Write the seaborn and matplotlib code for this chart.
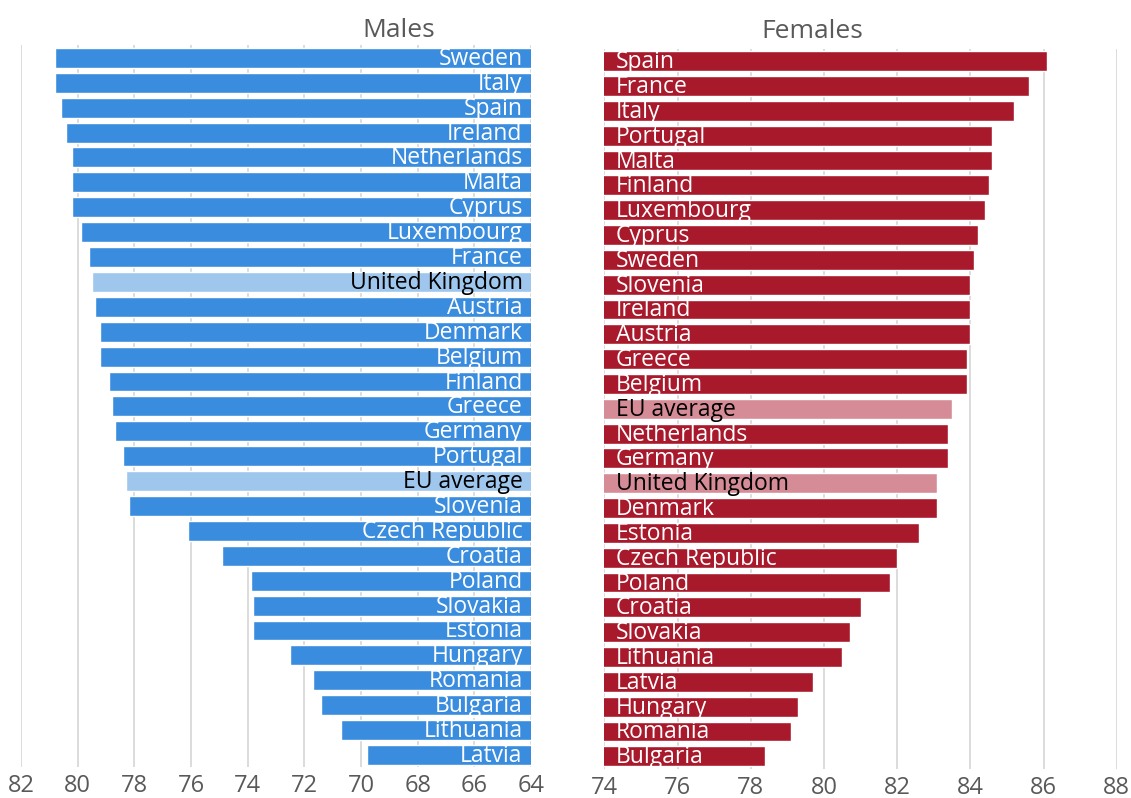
import matplotlib
matplotlib.use("Agg")
import matplotlib.pyplot as plt
import seaborn as sns
import pandas as pd

# life expectancy at birth
male_countries = ['Sweden', 'Italy', 'Spain', 'Ireland', 'Netherlands', 'Malta', 'Cyprus',
                  'Luxembourg', 'France', 'United Kingdom', 'Austria', 'Denmark', 'Belgium',
                  'Finland', 'Greece', 'Germany', 'Portugal', 'EU average', 'Slovenia',
                  'Czech Republic', 'Croatia', 'Poland', 'Slovakia', 'Estonia', 'Hungary',
                  'Romania', 'Bulgaria', 'Lithuania', 'Latvia']
male_values = [80.8, 80.8, 80.6, 80.4, 80.2, 80.2, 80.2, 79.9, 79.6, 79.5, 79.4, 79.2, 79.2,
               78.9, 78.8, 78.7, 78.4, 78.3, 78.2, 76.1, 74.9, 73.9, 73.8, 73.8, 72.5,
               71.7, 71.4, 70.7, 69.8]

female_countries = ['Spain', 'France', 'Italy', 'Portugal', 'Malta', 'Finland', 'Luxembourg',
                    'Cyprus', 'Sweden', 'Slovenia', 'Ireland', 'Austria', 'Greece', 'Belgium',
                    'EU average', 'Netherlands', 'Germany', 'United Kingdom', 'Denmark',
                    'Estonia', 'Czech Republic', 'Poland', 'Croatia', 'Slovakia', 'Lithuania',
                    'Latvia', 'Hungary', 'Romania', 'Bulgaria']
female_values = [86.1, 85.6, 85.2, 84.6, 84.6, 84.5, 84.4, 84.2, 84.1, 84.0, 84.0, 84.0,
                 83.9, 83.9, 83.5, 83.4, 83.4, 83.1, 83.1, 82.6, 82.0, 81.8, 81.0, 80.7,
                 80.5, 79.7, 79.3, 79.1, 78.4]

male_ticks = [82, 80, 78, 76, 74, 72, 70, 68, 66, 64]
female_ticks = [74, 76, 78, 80, 82, 84, 86, 88]
highlight = ['United Kingdom', 'EU average']

sns.set_theme(style='white')
plt.rcParams['font.family'] = ['Open Sans', 'DejaVu Sans']

fig = plt.figure(figsize=(11.31, 7.98), dpi=100)
n = len(male_countries)
ax_m = fig.add_axes([0.0186, 0.0383, 0.4509, 0.9048])
ax_f = fig.add_axes([0.5343, 0.0367, 0.4531, 0.9021])


def draw_panel(ax, countries, values, base, light, xlim, ticks, label_x, ha):
    df = pd.DataFrame({'country': countries, 'value': values})
    colors = [light if c in highlight else base for c in countries]
    sns.barplot(data=df, x='value', y='country', hue='country', palette=colors,
                saturation=1, legend=False, orient='h', width=0.8, ax=ax, zorder=2)
    ax.set_xlim(*xlim)
    ax.set_ylim(n - 0.5, -0.5)
    ax.set_xticks(ticks)
    ax.set_xticklabels([str(t) for t in ticks], fontsize=17, color='#595959')
    ax.set_yticks([])
    ax.set_xlabel('')
    ax.set_ylabel('')
    ax.grid(axis='x', color='#d9d9d9', linewidth=1.3, zorder=0)
    ax.set_axisbelow(True)
    for s in ax.spines.values():
        s.set_visible(False)
    ax.tick_params(axis='x', length=0, pad=5)
    for i, c in enumerate(countries):
        ax.text(label_x, i + 0.04, c, ha=ha, va='center', fontsize=16.5,
                color='black' if c in highlight else 'white', zorder=3)


draw_panel(ax_m, male_countries, male_values, '#3a8dde', '#9fc7ee', (82, 64),
           male_ticks, 64.3, 'right')
draw_panel(ax_f, female_countries, female_values, '#a8192c', '#d68c96', (74, 88),
           female_ticks, 74.32, 'left')

fig.text(0.3528, 1 - 37 / 798, 'Males', ha='center', va='baseline', fontsize=19,
         color='#595959')
fig.text(0.718, 1 - 38 / 798, 'Females', ha='center', va='baseline', fontsize=19,
         color='#595959')

fig.savefig('out.png', dpi=100)
